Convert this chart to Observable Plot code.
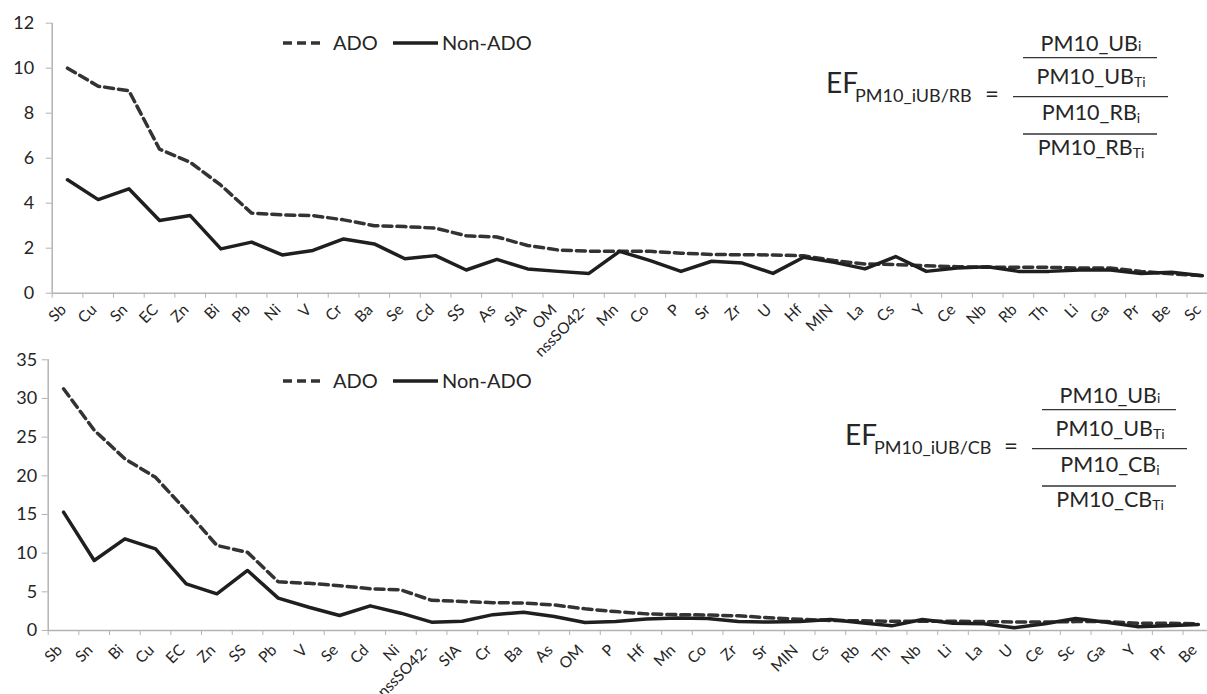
<!DOCTYPE html>
<html><head><meta charset="utf-8">
<script src="https://cdn.jsdelivr.net/npm/d3@7"></script>
<script src="https://cdn.jsdelivr.net/npm/@observablehq/plot@0.6"></script>
<style>
body{margin:0;background:#fff;font-family:Lato,sans-serif;}
#wrap{position:relative;width:1207px;height:694px;overflow:hidden;background:#fff;}
.chart{position:absolute;left:0;}
#overlay{position:absolute;left:0;top:0;pointer-events:none;}
</style></head>
<body><div id="wrap"><div id="top" class="chart" style="top:0px"></div><div id="bot" class="chart" style="top:340px"></div></div>
<script>
const topCategories = ["Sb","Cu","Sn","EC","Zn","Bi","Pb","Ni","V","Cr","Ba","Se","Cd","SS","As","SIA","OM","nssSO42-","Mn","Co","P","Sr","Zr","U","Hf","MIN","La","Cs","Y","Ce","Nb","Rb","Th","Li","Ga","Pr","Be","Sc"];
const topADO = [10.0,9.2,9.0,6.4,5.82,4.8,3.56,3.48,3.45,3.26,3.0,2.96,2.89,2.55,2.5,2.12,1.92,1.87,1.87,1.86,1.78,1.72,1.71,1.7,1.66,1.45,1.3,1.27,1.22,1.18,1.15,1.15,1.15,1.12,1.12,0.97,0.86,0.78];
const topNonADO = [5.04,4.16,4.64,3.23,3.45,1.97,2.27,1.7,1.9,2.41,2.19,1.53,1.67,1.03,1.5,1.08,0.97,0.88,1.86,1.45,0.97,1.42,1.34,0.88,1.6,1.37,1.08,1.63,0.97,1.12,1.18,0.97,0.97,1.03,1.03,0.88,0.93,0.78];
const topYTicks = [0,2,4,6,8,10,12];

const botCategories = ["Sb","Sn","Bi","Cu","EC","Zn","SS","Pb","V","Se","Cd","Ni","nssSO42-","SIA","Cr","Ba","As","OM","P","Hf","Mn","Co","Zr","Sr","MIN","Cs","Rb","Th","Nb","Li","La","U","Ce","Sc","Ga","Y","Pr","Be"];
const botADO = [31.25,25.9,22.2,19.8,15.5,11.0,10.1,6.3,6.1,5.8,5.4,5.25,3.9,3.75,3.6,3.55,3.3,2.8,2.45,2.15,2.05,2.0,1.9,1.65,1.45,1.3,1.25,1.2,1.2,1.2,1.15,1.1,1.1,1.15,1.15,0.95,0.95,0.86];
const botNonADO = [15.3,9.05,11.85,10.56,6.03,4.74,7.76,4.18,3.0,1.94,3.19,2.24,1.08,1.2,2.05,2.37,1.8,1.03,1.15,1.5,1.63,1.55,1.15,1.1,1.15,1.42,1.0,0.6,1.42,0.95,0.86,0.35,0.86,1.55,1.08,0.5,0.6,0.78];
const botYTicks = [0,5,10,15,20,25,30,35];

const seriesNames = ["ADO","Non-ADO"];

const AXIS = "#b3b3b3";
const INK = "#262626";

function makeChart({cats, ado, non, yTicks, yMax, height, margins, yPad, labelPad, labelDx}) {
  const n = cats.length;
  const boundaries = d3.range(n + 1);
  const centers = d3.range(n).map(i => i + 0.5);
  const pos = (d, i) => i + 0.5;
  return Plot.plot({
    width: 1207,
    height,
    ...margins,
    x: {type: "linear", domain: [0, n], label: null},
    y: {domain: [0, yMax], label: null},
    style: {fontFamily: "Lato, sans-serif", color: INK, background: "transparent", overflow: "visible"},
    marks: [
      Plot.axisY({ticks: yTicks, tickSize: 6, tickPadding: yPad, fontSize: 18, stroke: AXIS, fill: INK, label: null}),
      Plot.ruleX([0], {y1: 0, y2: yMax, stroke: AXIS, strokeWidth: 1.5}),
      Plot.ruleY([0], {x1: 0, x2: n, stroke: AXIS, strokeWidth: 1.5}),
      Plot.axisX({ticks: boundaries, tickFormat: () => "", tickSize: 5, stroke: AXIS, label: null}),
      Plot.axisX({ticks: centers, tickFormat: d => cats[Math.round(d - 0.5)], tickSize: 0, tickPadding: labelPad, tickRotate: -45, fontSize: 15.5, fill: INK, dx: labelDx, label: null}),
      Plot.lineY(ado, {x: pos, y: d => d, stroke: "#333", strokeWidth: 3.5, strokeDasharray: "9,5"}),
      Plot.lineY(non, {x: pos, y: d => d, stroke: "#1f1f1f", strokeWidth: 3.5})
    ]
  });
}

document.getElementById("top").append(makeChart({
  cats: topCategories, ado: topADO, non: topNonADO, yTicks: topYTicks, yMax: 12, height: 340,
  margins: {marginLeft: 51.7, marginRight: -10.2, marginTop: 22.7, marginBottom: 47.3},
  yPad: 12, labelPad: 14, labelDx: -4
}));
document.getElementById("bot").append(makeChart({
  cats: botCategories, ado: botADO, non: botNonADO, yTicks: botYTicks, yMax: 35, height: 354,
  margins: {marginLeft: 47.7, marginRight: -6.2, marginTop: 19.3, marginBottom: 64},
  yPad: 5, labelPad: 17, labelDx: -4
}));

// Legends and formulas (overlay)
const svg = d3.select("#wrap").append("svg").attr("id", "overlay")
  .attr("width", 1207).attr("height", 694)
  .style("font-family", "Lato, sans-serif");

function legend(y) {
  const g = svg.append("g").attr("fill", INK).style("font-size", "20px");
  g.append("line").attr("x1", 283).attr("x2", 323).attr("y1", y).attr("y2", y)
    .attr("stroke", "#333").attr("stroke-width", 3.5).attr("stroke-dasharray", "9,5");
  g.append("text").attr("x", 333).attr("y", y + 7).text(seriesNames[0]);
  g.append("line").attr("x1", 393).attr("x2", 438).attr("y1", y).attr("y2", y)
    .attr("stroke", "#1f1f1f").attr("stroke-width", 3.5);
  g.append("text").attr("x", 442).attr("y", y + 7).text(seriesNames[1]);
}
legend(43);
legend(381);

function formula(dx, dy, sub, lower) {
  const g = svg.append("g").attr("transform", `translate(${dx},${dy})`).attr("fill", INK);
  g.append("text").attr("x", 826).attr("y", 93).style("font-size", "28px").text("EF");
  g.append("text").attr("x", 855).attr("y", 101.5).style("font-size", "18px").text(sub);
  g.append("text").attr("x", 985).attr("y", 102).style("font-size", "24px").text("=");
  const line = (x1, x2, y) => g.append("line").attr("x1", x1).attr("x2", x2).attr("y1", y).attr("y2", y)
    .attr("stroke", "#333").attr("stroke-width", 1.3);
  line(1013, 1168, 96.7);
  line(1023, 1157, 57.7);
  line(1023, 1157, 134);
  const term = (main, small, y, shift) => {
    const t = g.append("text").attr("x", 1091).attr("y", y).attr("text-anchor", "middle").style("font-size", "21.5px");
    t.append("tspan").text(main);
    t.append("tspan").attr("dy", shift).style("font-size", "14px").text(small);
  };
  term("PM10_UB", "i", 51, 0);
  term("PM10_UB", "Ti", 84, 3);
  term("PM10_" + lower, "i", 120, 3);
  term("PM10_" + lower, "Ti", 155, 3);
}
formula(0, 0, "PM10_iUB/RB", "RB");
formula(19, 352, "PM10_iUB/CB", "CB");
</script>
</body></html>
